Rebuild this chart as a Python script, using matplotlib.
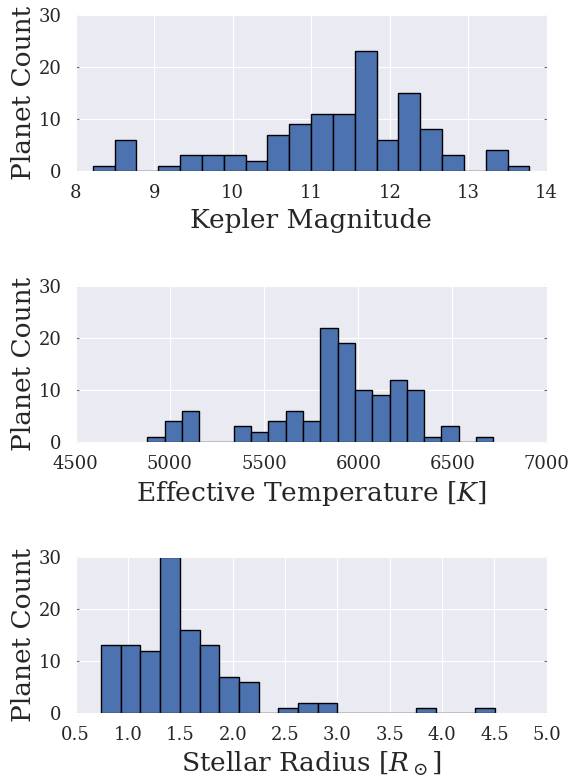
import matplotlib
matplotlib.use("Agg")
import matplotlib.pyplot as plt
import numpy as np
import seaborn as sns

# histogram counts (20 equal bins each)
kepmag_range = (8.217, 13.78)
kepmag_counts = [1, 6, 0, 1, 3, 3, 3, 2, 7, 9, 11, 11, 23, 6, 15, 8, 3, 0, 4, 1]

teff_range = (4880, 6717)
teff_counts = [1, 4, 6, 0, 0, 3, 2, 4, 6, 4, 22, 19, 10, 9, 12, 10, 1, 3, 0, 1]

srad_range = (0.742, 4.506)
srad_counts = [13, 13, 12, 30, 16, 13, 7, 6, 0, 1, 2, 2, 0, 0, 0, 0, 1, 0, 0, 1]

xlabels = ["Kepler Magnitude", "Effective Temperature [$K$]", r"Stellar Radius [$R_\odot$]"]
xlims = [(8, 14), (4500, 7000), (0.5, 5.0)]
xtick_sets = [np.arange(8, 15, 1), np.arange(4500, 7001, 500), np.arange(0.5, 5.01, 0.5)]
xtick_fmt = ["{:.0f}", "{:.0f}", "{:.1f}"]

sns.set_style("darkgrid")
plt.rcParams['font.family'] = ['DejaVu Serif']
plt.rcParams['mathtext.fontset'] = 'dejavuserif'
plt.rcParams['text.color'] = '#262626'
plt.rcParams['axes.labelcolor'] = '#262626'
plt.rcParams['xtick.color'] = '#262626'
plt.rcParams['ytick.color'] = '#262626'

fig = plt.figure(figsize=(5.71, 7.78), dpi=100)
bottoms = [0.7802, 0.4319, 0.0835]

data = [(kepmag_range, kepmag_counts), (teff_range, teff_counts), (srad_range, srad_counts)]

for i, ((lo, hi), counts) in enumerate(data):
    ax = fig.add_axes([0.1326, bottoms[i], 0.8248, 0.2006])
    edges = np.linspace(lo, hi, len(counts) + 1)
    centers = 0.5 * (edges[:-1] + edges[1:])
    ax.hist(centers, bins=edges, weights=counts, color='#4C72B0',
            edgecolor='black', linewidth=1.0)
    ax.set_xlim(*xlims[i])
    ax.set_ylim(0, 30)
    ax.set_yticks([0, 10, 20, 30])
    ax.set_xticks(xtick_sets[i])
    ax.set_xticklabels([xtick_fmt[i].format(t) for t in xtick_sets[i]])
    ax.tick_params(axis='both', labelsize=13)
    ax.tick_params(axis='x', pad=6)
    ax.tick_params(axis='y', direction='in', length=2, color='#666666',
                   left=True, right=True, pad=10)
    ax.set_xlabel(xlabels[i], fontsize=19, labelpad=4)
    ax.set_ylabel("Planet Count", fontsize=19, labelpad=2)

fig.savefig("out.png", dpi=100)
